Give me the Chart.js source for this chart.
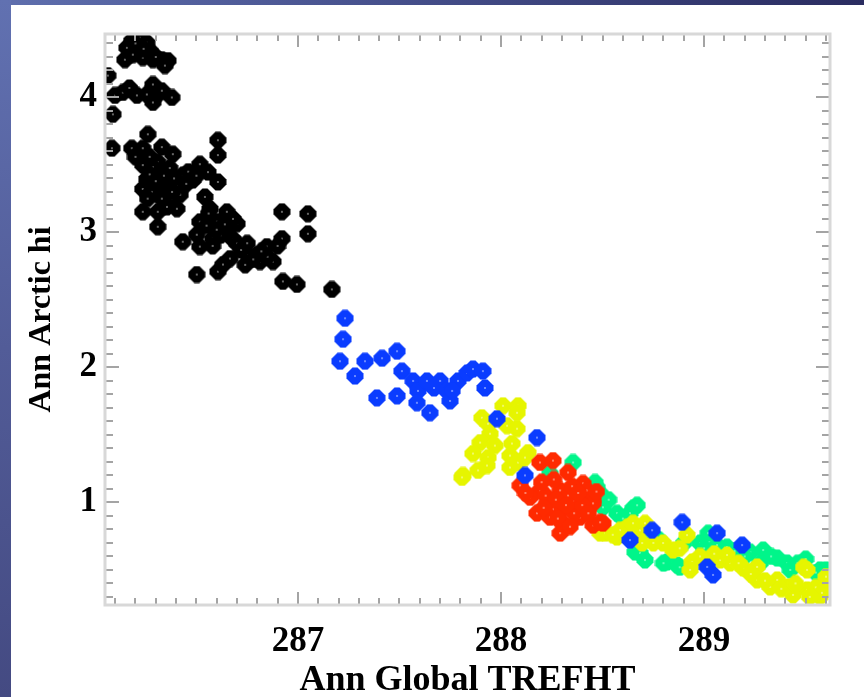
<!DOCTYPE html>
<html>
<head>
<meta charset="utf-8">
<script src="https://cdn.jsdelivr.net/npm/chart.js@4.4.1/dist/chart.umd.min.js"></script>
<style>
  html, body { margin: 0; padding: 0; }
  body {
    width: 864px; height: 697px; overflow: hidden; position: relative;
    background: linear-gradient(to right, #5f6fae 0%, #46508c 45%, #2a2c60 100%);
  }
  #side {
    position: absolute; left: 0; top: 0; width: 11px; height: 697px;
    background: linear-gradient(to bottom, #6171b1 0%, #525c98 50%, #444a82 100%);
  }
  #panel {
    position: absolute; left: 11px; top: 5px; width: 853px; height: 692px;
    background: #ffffff;
  }
</style>
</head>
<body>
<div id="side"></div>
<div id="panel"><canvas id="chart" width="853" height="692"></canvas></div>
<script>
// values: [Ann Global TREFHT, Ann Arctic hi]
const blackPts = [
  [286.182, 4.420], [286.222, 4.442], [286.256, 4.405], [286.158, 4.368], [286.207, 4.354],
  [286.271, 4.346], [286.148, 4.280], [286.236, 4.295], [286.286, 4.280], [286.330, 4.280],
  [286.360, 4.273], [286.345, 4.236], [286.187, 4.317], [286.064, 4.162], [286.200, 4.400],
  [286.300, 4.300], [286.240, 4.360],
  [286.099, 4.015], [286.172, 4.059], [286.207, 4.015], [286.286, 4.096], [286.310, 4.022],
  [286.286, 3.963], [286.379, 4.000], [286.256, 4.022], [286.138, 4.037], [286.089, 3.875],
  [286.170, 4.070], [286.330, 4.050],
  [286.084, 3.624], [286.182, 3.624], [286.236, 3.624], [286.261, 3.727], [286.330, 3.632],
  [286.384, 3.580], [286.606, 3.683], [286.606, 3.573],
  [286.236, 3.499], [286.310, 3.521], [286.369, 3.477], [286.433, 3.425], [286.256, 3.396],
  [286.236, 3.322], [286.330, 3.359], [286.404, 3.352], [286.517, 3.506], [286.557, 3.447],
  [286.606, 3.374], [286.379, 3.248], [286.355, 3.189], [286.404, 3.175], [286.236, 3.153],
  [286.310, 3.153], [286.310, 3.042], [286.286, 3.484], [286.483, 3.388], [286.355, 3.315],
  [286.270, 3.430], [286.280, 3.300], [286.330, 3.250], [286.390, 3.400], [286.460, 3.450],
  [286.420, 3.280], [286.200, 3.560], [286.270, 3.560], [286.340, 3.420], [286.300, 3.380],
  [286.450, 3.360], [286.500, 3.420], [286.380, 3.300], [286.260, 3.250],
  [286.542, 3.263], [286.567, 3.175], [286.650, 3.153], [286.517, 3.079], [286.601, 3.079],
  [286.700, 3.064], [286.502, 2.983], [286.581, 2.954], [286.433, 2.931], [286.517, 2.895],
  [286.650, 3.005], [286.550, 3.050], [286.620, 2.980], [286.560, 3.140], [286.680, 3.100],
  [286.600, 3.020], [286.640, 3.060], [286.580, 2.900], [286.680, 2.950],
  [286.700, 2.917], [286.749, 2.843], [286.665, 2.806], [286.798, 2.836], [286.847, 2.895],
  [286.921, 2.954], [286.877, 2.784], [286.813, 2.784], [286.606, 2.710], [286.502, 2.688],
  [286.631, 2.762], [286.720, 2.870], [286.780, 2.800], [286.850, 2.820], [286.750, 2.920],
  [286.900, 2.900], [286.820, 2.860], [286.740, 2.760],
  [286.921, 3.153], [287.049, 3.138], [287.049, 2.990],
  [286.926, 2.637], [286.995, 2.615], [287.167, 2.578]
];
const bluePts = [
  [287.232, 2.364], [287.222, 2.209], [287.207, 2.046], [287.281, 1.936], [287.330, 2.046],
  [287.414, 2.068], [287.488, 2.120], [287.512, 1.973], [287.389, 1.774], [287.488, 1.789],
  [287.567, 1.900], [287.591, 1.826], [287.586, 1.738], [287.650, 1.664], [287.635, 1.900],
  [287.700, 1.900], [287.734, 1.826], [287.749, 1.752], [287.788, 1.900], [287.833, 1.959],
  [287.862, 1.988], [287.911, 1.973], [287.921, 1.848], [287.670, 1.848], [287.759, 1.826],
  [287.980, 1.620], [288.177, 1.480], [288.118, 1.200], [288.635, 0.721], [288.892, 0.853],
  [289.064, 0.772], [289.187, 0.684], [289.015, 0.522], [289.044, 0.463], [288.744, 0.794]
];
const yellowPts = [
  [288.010, 1.716], [288.084, 1.716], [288.079, 1.664], [287.906, 1.627], [287.936, 1.583],
  [288.030, 1.568], [288.079, 1.546], [287.946, 1.509], [287.897, 1.443], [287.970, 1.421],
  [288.054, 1.436], [287.862, 1.362], [287.936, 1.332], [288.044, 1.347], [288.133, 1.369],
  [287.813, 1.200], [287.887, 1.237], [287.931, 1.273], [288.044, 1.259], [288.084, 1.296],
  [288.118, 1.332], [287.808, 1.185],
  [288.488, 0.772], [288.571, 0.743], [288.621, 0.816], [288.685, 0.794], [288.512, 0.772],
  [288.586, 0.794], [288.650, 0.846], [288.709, 0.846], [288.695, 0.699], [288.798, 0.699],
  [288.847, 0.647], [288.916, 0.758], [288.941, 0.559], [288.931, 0.500], [289.079, 0.573],
  [289.128, 0.551], [289.192, 0.514], [289.113, 0.610], [289.261, 0.522], [289.261, 0.426],
  [289.360, 0.426], [289.325, 0.374], [289.409, 0.374], [289.490, 0.520], [289.507, 0.500],
  [289.507, 0.352], [289.571, 0.301], [289.606, 0.404], [289.438, 0.315],
  [288.550, 0.760], [288.750, 0.700], [288.880, 0.660], [288.980, 0.600], [289.050, 0.620],
  [289.170, 0.550], [289.230, 0.470], [289.300, 0.420], [289.380, 0.360], [289.450, 0.400],
  [289.550, 0.370], [289.580, 0.330], [289.600, 0.450], [289.520, 0.300]
];
const redPts = [
  [288.192, 1.296], [288.256, 1.310], [288.330, 1.222], [288.094, 1.126], [288.192, 1.089],
  [288.227, 0.993], [288.177, 0.920], [288.291, 1.089], [288.355, 1.015], [288.404, 1.141],
  [288.453, 1.015], [288.305, 0.846], [288.291, 0.772], [288.389, 0.890], [288.453, 0.831],
  [288.502, 0.846], [288.241, 0.890], [288.424, 1.089], [288.143, 1.038], [288.453, 0.993],
  [288.488, 0.853], [288.260, 1.170], [288.330, 1.050], [288.300, 0.950], [288.360, 0.920],
  [288.400, 0.980], [288.220, 1.050], [288.270, 1.020], [288.350, 1.120], [288.430, 0.920],
  [288.210, 0.960], [288.320, 0.980], [288.380, 1.070], [288.280, 0.880], [288.340, 0.820],
  [288.200, 1.150], [288.120, 1.070], [288.470, 1.080]
];
const greenPts = [
  [288.355, 1.296], [288.241, 1.214], [288.463, 1.148], [288.488, 1.067], [288.502, 0.964],
  [288.571, 0.920], [288.650, 0.957], [288.660, 0.632], [288.473, 1.111], [288.670, 0.979],
  [288.635, 0.920], [288.749, 0.758], [288.685, 0.625], [288.709, 0.573], [288.818, 0.559],
  [288.867, 0.536], [289.020, 0.772], [288.980, 0.699], [289.064, 0.684], [289.227, 0.632],
  [289.291, 0.647], [289.360, 0.588], [289.409, 0.551], [289.424, 0.500], [289.571, 0.500],
  [289.276, 0.551], [289.113, 0.669], [289.600, 0.500],
  [288.530, 1.020], [288.600, 0.880], [288.720, 0.750], [288.780, 0.720], [288.900, 0.700],
  [289.000, 0.660], [289.150, 0.640], [289.200, 0.600], [289.330, 0.600], [289.460, 0.550],
  [289.500, 0.580], [289.550, 0.480], [288.800, 0.550], [288.880, 0.520]
];
const xTickVals = [287, 288, 289];
const yTickVals = [1, 2, 3, 4];

// rounded diamond with a pale centre, like the IDL symbol
function marker(color) {
  const c = document.createElement('canvas');
  c.width = 18; c.height = 18;
  const g = c.getContext('2d');
  const m = 9;
  g.fillStyle = color;
  g.beginPath();
  g.moveTo(m - 2.5, 0.5); g.lineTo(m + 2.5, 0.5);
  g.lineTo(17.5, m - 2.5); g.lineTo(17.5, m + 2.5);
  g.lineTo(m + 2.5, 17.5); g.lineTo(m - 2.5, 17.5);
  g.lineTo(0.5, m + 2.5); g.lineTo(0.5, m - 2.5);
  g.closePath();
  g.fill();
  g.fillStyle = 'rgba(255,255,255,0.4)';
  g.fillRect(m - 1, m - 1, 2, 2);
  return c;
}

function toXY(pts) {
  return pts.map(p => ({ x: p[0], y: p[1] }));
}

// frame and inward ticks on all four sides
const framePlugin = {
  id: 'frame',
  afterDraw(chart) {
    const { ctx, chartArea: a, scales: { x, y } } = chart;
    ctx.save();
    ctx.strokeStyle = '#a4a4a4';
    ctx.lineWidth = 2;
    for (let i = Math.ceil(x.min * 10); i <= Math.floor(x.max * 10); i++) {
      const px = Math.round(x.getPixelForValue(i / 10));
      const len = i % 10 === 0 ? 13 : 7;
      ctx.beginPath();
      ctx.moveTo(px, a.bottom); ctx.lineTo(px, a.bottom - len);
      ctx.moveTo(px, a.top); ctx.lineTo(px, a.top + len);
      ctx.stroke();
    }
    for (let i = Math.ceil(y.min * 10); i <= Math.floor(y.max * 10); i++) {
      const py = Math.round(y.getPixelForValue(i / 10));
      const len = i % 10 === 0 ? 14 : 8;
      ctx.beginPath();
      ctx.moveTo(a.left, py); ctx.lineTo(a.left + len, py);
      ctx.moveTo(a.right, py); ctx.lineTo(a.right - len, py);
      ctx.stroke();
    }
    ctx.strokeStyle = '#d8d8d8';
    ctx.lineWidth = 3;
    ctx.strokeRect(a.left, a.top, a.right - a.left, a.bottom - a.top);
    ctx.restore();
  }
};

const serif = '"Liberation Serif", "Times New Roman", serif';

new Chart(document.getElementById('chart'), {
  type: 'scatter',
  data: {
    datasets: [
      { label: 'black', data: toXY(blackPts), pointStyle: marker('#000000'), order: 0 },
      { label: 'blue', data: toXY(bluePts), pointStyle: marker('#0a3cff'), order: 1 },
      { label: 'red', data: toXY(redPts), pointStyle: marker('#ff2a00'), order: 2 },
      { label: 'yellow', data: toXY(yellowPts), pointStyle: marker('#e6f500'), order: 3 },
      { label: 'green', data: toXY(greenPts), pointStyle: marker('#00f58a'), order: 4 }
    ]
  },
  options: {
    responsive: false,
    animation: false,
    layout: { padding: { top: 26, right: 34, left: 0, bottom: 0 } },
    elements: { point: { radius: 9, hoverRadius: 9 } },
    plugins: { legend: { display: false }, tooltip: { enabled: false } },
    scales: {
      x: {
        type: 'linear',
        min: 286.05,
        max: 289.62,
        grid: { display: false, drawTicks: false },
        border: { display: false },
        afterFit: s => { s.height = 92; },
        afterBuildTicks: s => { s.ticks = xTickVals.map(v => ({ value: v })); },
        ticks: {
          color: '#000',
          padding: 16,
          maxRotation: 0,
          font: { family: serif, size: 35, weight: 'bold' }
        },
        title: {
          display: true,
          text: 'Ann Global TREFHT',
          color: '#000',
          padding: { top: 0, bottom: 0 },
          font: { family: serif, size: 36, weight: 'bold', lineHeight: 0.9 }
        }
      },
      y: {
        type: 'linear',
        min: 0.24,
        max: 4.47,
        grid: { display: false, drawTicks: false },
        border: { display: false },
        afterFit: s => { s.width = 94; },
        afterBuildTicks: s => { s.ticks = yTickVals.map(v => ({ value: v })); },
        ticks: {
          color: '#000',
          padding: 8,
          font: { family: serif, size: 35, weight: 'bold' }
        },
        title: {
          display: true,
          text: 'Ann Arctic hi',
          color: '#000',
          padding: { top: 12, bottom: 0 },
          font: { family: serif, size: 32, weight: 'bold' }
        }
      }
    }
  },
  plugins: [framePlugin]
});
</script>
</body>
</html>
